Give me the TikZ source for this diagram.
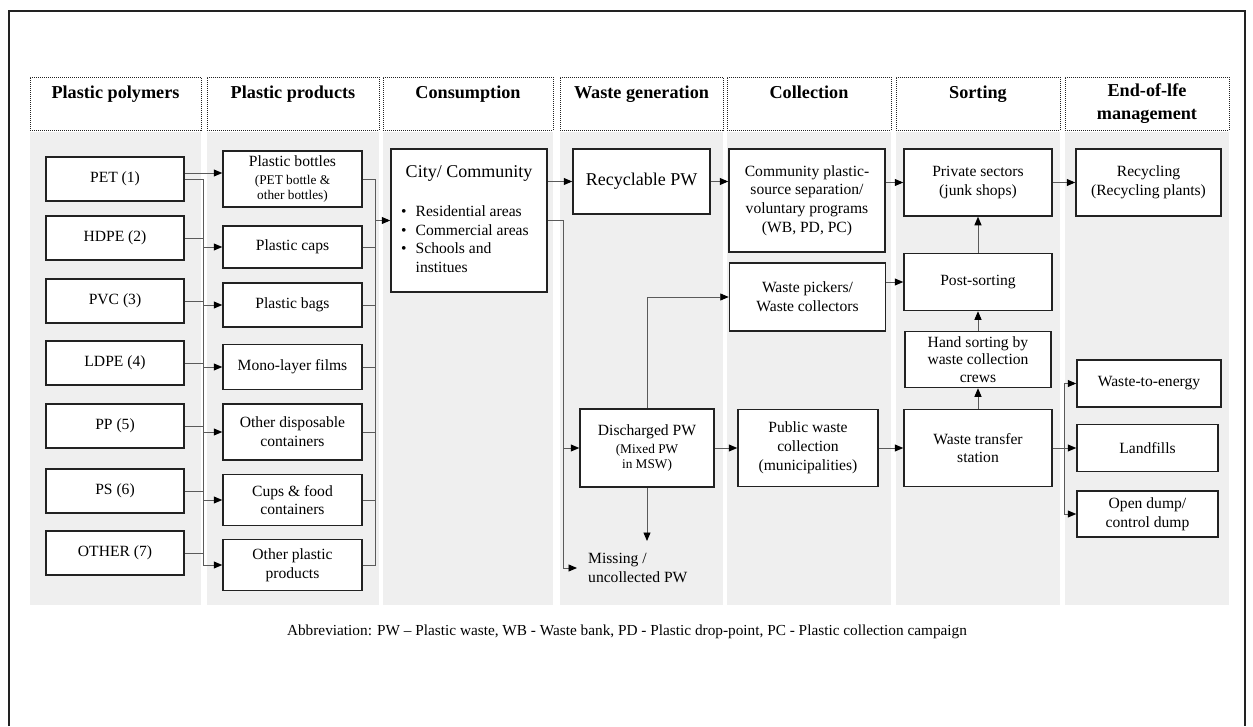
\documentclass[tikz,border=0pt]{standalone}
\usepackage{fontspec}
\setmainfont{Liberation Serif}
\usetikzlibrary{arrows.meta}

\newcommand\fmain{\fontsize{15.6}{18.8}\selectfont}
\newcommand\fsmall{\fontsize{13.3}{16}\selectfont}
\newcommand\fbig{\fontsize{18}{21}\selectfont}
\newcommand\fhead{\fontsize{18.2}{23}\selectfont\bfseries}

\definecolor{band}{HTML}{EFEFEF}
\definecolor{edge}{HTML}{222222}
\definecolor{wire}{HTML}{5A5A5A}

\begin{document}
\begin{tikzpicture}[x=1pt,y=-1pt,
  box/.style={draw=edge,line width=1.5pt,fill=white,align=center,font=\fmain,inner sep=2pt},
  poly/.style={box,minimum width=138pt,minimum height=44pt},
  prod/.style={box,minimum width=139pt},
  head/.style={draw=edge,densely dotted,line width=1pt,minimum height=53pt,align=center,font=\fhead,inner sep=0pt},
  ln/.style={draw=wire,line width=0.9pt},
  arr/.style={ln,-{Triangle[length=8.5pt,width=7pt,color=black]}}]
\useasboundingbox (0,0) rectangle (1253,726);

\fill[band] (30,132) rectangle (201,605);
\fill[band] (207,132) rectangle (379,605);
\fill[band] (383,132) rectangle (553,605);
\fill[band] (560,132) rectangle (723,605);
\fill[band] (727,132) rectangle (891,605);
\fill[band] (896,132) rectangle (1060,605);
\fill[band] (1065,132) rectangle (1229,605);

\draw[edge,line width=1.5pt] (9,726) -- (9,11) -- (1245,11) -- (1245,726);

\node[head,minimum width=171pt] (hpoly) at (115.5,103.5) {Plastic polymers\\\mbox{}};
\node[head,minimum width=172pt] (hprod) at (293,103.5) {Plastic products\\\mbox{}};
\node[head,minimum width=170pt] (hcons) at (468,103.5) {Consumption\\\mbox{}};
\node[head,minimum width=163pt] (hgen) at (641.5,103.5) {Waste generation\\\mbox{}};
\node[head,minimum width=164pt] (hcoll) at (809,103.5) {Collection\\\mbox{}};
\node[head,minimum width=164pt] (hsort) at (978,103.5) {Sorting\\\mbox{}};
\node[head,minimum width=164pt] (heol) at (1147,103.5) {End-of-lfe\\management};

\node[poly] (pet) at (115,179) {PET (1)};
\node[poly] (hdpe) at (115,238) {HDPE (2)};
\node[poly] (pvc) at (115,301) {PVC (3)};
\node[poly] (ldpe) at (115,363) {LDPE (4)};
\node[poly] (pp) at (115,426) {PP (5)};
\node[poly] (ps) at (115,491) {PS (6)};
\node[poly] (oth) at (115,553) {OTHER (7)};

\node[prod,minimum height=56pt] (bottles) at (292.5,179) {Plastic bottles\\[-1pt]{\fsmall (PET bottle \&}\\[-3pt]{\fsmall other bottles)}};
\node[prod,minimum height=42pt] (caps) at (292.5,247) {Plastic caps};
\node[prod,minimum height=44pt] (bags) at (292.5,305) {Plastic bags};
\node[prod,minimum height=45pt] (mono) at (292.5,367) {Mono-layer films};
\node[prod,minimum height=56pt] (disp) at (292.5,432) {Other disposable\\containers};
\node[prod,minimum height=51pt] (cups) at (292.5,500) {Cups \& food\\containers};
\node[prod,minimum height=51pt] (oprod) at (292.5,565) {Other plastic\\products};

\node[box,minimum width=156pt,minimum height=143pt] (city) at (469,220.5) {};
\node[font=\fbig] (cityttl) at (469,173) {City/ Community};
\node[font=\fmain,anchor=north west,inner sep=0pt] (citylst) at (401,203)
  {\begin{tabular}{@{}l@{\hspace{9pt}}l@{}}
   \textbullet & Residential areas\\
   \textbullet & Commercial areas\\
   \textbullet & Schools and\\
               & institues
   \end{tabular}};

\node[box,minimum width=137pt,minimum height=65pt,font=\fbig] (recyc) at (641.5,181.5) {Recyclable PW};
\node[box,minimum width=134pt,minimum height=78pt] (disch) at (647,448) {Discharged PW\\[-1pt]{\fsmall (Mixed PW}\\[-3pt]{\fsmall in MSW)}};
\node[font=\fmain,align=left,anchor=west,inner xsep=11pt,inner ysep=0pt] (miss) at (577,568) {Missing /\\uncollected PW};
\coordinate (misstip) at (647,541);

\node[box,minimum width=156pt,minimum height=103pt] (commu) at (807,200.5) {Community plastic-\\source separation/\\voluntary programs\\(WB, PD, PC)};
\node[box,minimum width=156pt,minimum height=68pt] (pick) at (807.5,297) {Waste pickers/\\Waste collectors};
\node[box,minimum width=140pt,minimum height=77pt] (pub) at (808,448) {Public waste\\collection\\(municipalities)};

\node[box,minimum width=148pt,minimum height=67pt] (priv) at (978,182.5) {Private sectors\\(junk shops)};
\node[box,minimum width=148pt,minimum height=57pt] (post) at (978,282) {Post-sorting};
\node[box,minimum width=146pt,minimum height=56pt,inner ysep=0pt] (hand) at (978,359.5) {Hand sorting by\\[-1.5pt]waste collection\\[-1.5pt]crews};
\node[box,minimum width=148pt,minimum height=77pt] (trans) at (978,448) {Waste transfer\\station};

\node[box,minimum width=145pt,minimum height=67pt] (recy) at (1148.5,182.5) {Recycling\\(Recycling plants)};
\node[box,minimum width=144pt,minimum height=47pt] (wte) at (1149,383.5) {Waste-to-energy};
\node[box,minimum width=141pt,minimum height=47pt] (land) at (1147.5,448) {Landfills};
\node[box,minimum width=141pt,minimum height=46pt] (dump) at (1147.5,514) {Open dump/\\control dump};

\node[font=\fontsize{15.3}{18}\selectfont] (abbr) at (627,632) {Abbreviation: PW -- Plastic waste, WB - Waste bank, PD - Plastic drop-point, PC - Plastic collection campaign};

\coordinate (petup) at ([yshift=6pt]pet.east);
\draw[arr] (petup) -- (petup -| bottles.west);

\coordinate (pbus) at (203,0);
\draw[ln] (pet.east) -- (pbus |- pet.east) -- (pbus |- oprod.west);
\draw[ln] (hdpe.east) -- (pbus |- hdpe.east);
\draw[ln] (pvc.east) -- (pbus |- pvc.east);
\draw[ln] (ldpe.east) -- (pbus |- ldpe.east);
\draw[ln] (pp.east) -- (pbus |- pp.east);
\draw[ln] (ps.east) -- (pbus |- ps.east);
\draw[ln] (oth.east) -- (pbus |- oth.east);
\draw[arr] (pbus |- caps.west) -- (caps.west);
\draw[arr] (pbus |- bags.west) -- (bags.west);
\draw[arr] (pbus |- mono.west) -- (mono.west);
\draw[arr] (pbus |- disp.west) -- (disp.west);
\draw[arr] (pbus |- cups.west) -- (cups.west);
\draw[arr] (pbus |- oprod.west) -- (oprod.west);

\coordinate (cbus) at (375,0);
\draw[ln] (bottles.east) -- (cbus |- bottles.east) -- (cbus |- oprod.east) -- (oprod.east);
\draw[ln] (caps.east) -- (cbus |- caps.east);
\draw[ln] (bags.east) -- (cbus |- bags.east);
\draw[ln] (mono.east) -- (cbus |- mono.east);
\draw[ln] (disp.east) -- (cbus |- disp.east);
\draw[ln] (cups.east) -- (cbus |- cups.east);
\draw[arr] (cbus |- city.west) -- (city.west);

\coordinate (wbus) at (563,0);
\draw[arr] (city.east |- recyc.west) -- (recyc.west);
\draw[arr] (city.east) -| (wbus |- miss.west) -- (miss.west);
\draw[arr] (wbus |- disch.west) -- (disch.west);
\draw[arr] (disch.south) -- (misstip);
\draw[arr] (disch.north) |- (pick.west);

\draw[arr] (recyc.east) -- (recyc.east -| commu.west);
\draw[arr] (disch.east) -- (pub.west);
\draw[arr] (commu.east |- priv.west) -- (priv.west);
\draw[arr] (pick.east |- post.west) -- (post.west);
\draw[arr] (pub.east) -- (trans.west);
\draw[arr] (trans.north) -- (hand.south);
\draw[arr] (hand.north) -- (post.south);
\draw[arr] (post.north) -- (priv.south);
\draw[arr] (priv.east) -- (recy.west);

\coordinate (ebus) at (1064,0);
\draw[ln] (trans.east) -- (ebus |- trans.east);
\draw[ln] (ebus |- wte.west) -- (ebus |- dump.west);
\draw[arr] (ebus |- wte.west) -- (wte.west);
\draw[arr] (ebus |- land.west) -- (land.west);
\draw[arr] (ebus |- dump.west) -- (dump.west);
\end{tikzpicture}
\end{document}
